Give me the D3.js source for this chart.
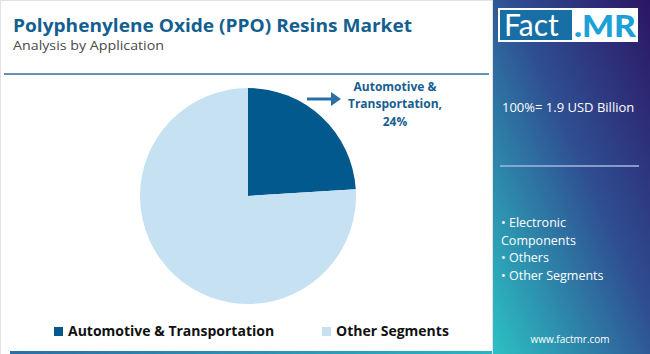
<!DOCTYPE html>
<html>
<head>
<meta charset="utf-8">
<script src="https://cdn.jsdelivr.net/npm/d3@7"></script>
<style>
  body { margin: 0; background: #fff; }
  svg { display: block; font-family: "Open Sans", "Noto Sans", sans-serif; }
</style>
</head>
<body>
<svg id="svg" width="650" height="354"></svg>
<script>
var categories = ["Automotive & Transportation", "Other Segments"];
var shares = [24, 76];
var sliceColors = ["#02598d", "#c6e2f2"];
var sideBullets = ["\u2022 Electronic", "Components", "\u2022 Others", "\u2022 Other Segments"];
var totalLabel = "100%= 1.9 USD Billion";

var svg = d3.select("svg");
var defs = svg.append("defs");

var grad = defs.append("linearGradient").attr("id", "side")
    .attr("x1", "100%").attr("y1", "0%").attr("x2", "0%").attr("y2", "100%");
grad.append("stop").attr("offset", "0%").attr("stop-color", "#2c1664");
grad.append("stop").attr("offset", "45%").attr("stop-color", "#2f4f92");
grad.append("stop").attr("offset", "100%").attr("stop-color", "#2cc1c4");

var lineGrad = defs.append("linearGradient").attr("id", "bottomLine")
    .attr("x1", "0%").attr("x2", "100%");
lineGrad.append("stop").attr("offset", "0%").attr("stop-color", "#2a6fa6");
lineGrad.append("stop").attr("offset", "100%").attr("stop-color", "#2ab3c2");

// left panel borders
svg.append("rect").attr("x", 0.5).attr("y", 0.5).attr("width", 492).attr("height", 360)
    .attr("fill", "none").attr("stroke", "#e2e2e2");

// title
svg.append("text").attr("x", 13).attr("y", 32)
    .attr("font-size", 18).attr("font-weight", 700).attr("fill", "#135f90")
    .attr("textLength", 399).attr("lengthAdjust", "spacingAndGlyphs")
    .text("Polyphenylene Oxide (PPO) Resins Market");
svg.append("text").attr("x", 13).attr("y", 50)
    .attr("font-size", 13).attr("fill", "#4a4a4a")
    .attr("textLength", 151).attr("lengthAdjust", "spacingAndGlyphs")
    .text("Analysis by Application");

svg.append("line").attr("x1", 4).attr("x2", 489).attr("y1", 74).attr("y2", 74)
    .attr("stroke", "#2f6f9f").attr("stroke-width", 1.5);

svg.append("rect").attr("x", 10).attr("y", 351).attr("width", 482).attr("height", 3)
    .attr("fill", "url(#bottomLine)");

// pie
var pie = d3.pie().sort(null).value(function (d) { return d; });
var arc = d3.arc().innerRadius(0).outerRadius(108);
var pieG = svg.append("g").attr("transform", "translate(248,196)");
pieG.selectAll("path").data(pie(shares)).enter().append("path")
    .attr("d", arc)
    .attr("fill", function (d, i) { return sliceColors[i]; });

// annotation
svg.append("line").attr("x1", 307).attr("x2", 332).attr("y1", 99).attr("y2", 99)
    .attr("stroke", "#2a6fa6").attr("stroke-width", 3);
svg.append("path").attr("d", "M331,92 L341,99 L331,106 Z").attr("fill", "#2a6fa6");
var ann = svg.append("text").attr("text-anchor", "middle")
    .attr("font-size", 12).attr("font-weight", 700).attr("fill", "#185e90");
ann.append("tspan").attr("x", 395).attr("y", 91).text("Automotive &");
ann.append("tspan").attr("x", 395).attr("y", 108).text("Transportation,");
ann.append("tspan").attr("x", 395).attr("y", 126).text(shares[0] + "%");

// legend
var legendX = [54, 322];
var legend = svg.selectAll(".legend").data(categories).enter().append("g")
    .attr("class", "legend")
    .attr("transform", function (d, i) { return "translate(" + legendX[i] + ",327)"; });
legend.append("rect").attr("width", 9).attr("height", 9)
    .attr("fill", function (d, i) { return sliceColors[i]; });
legend.append("text").attr("x", 14).attr("y", 9)
    .attr("font-size", 14).attr("font-weight", 700).attr("fill", "#111")
    .text(function (d) { return d; });

// side panel
svg.append("rect").attr("x", 493).attr("y", 0).attr("width", 157).attr("height", 354)
    .attr("fill", "url(#side)");
svg.append("rect").attr("x", 498).attr("y", 8).attr("width", 140).attr("height", 34).attr("fill", "#fff");
svg.append("rect").attr("x", 500).attr("y", 10).attr("width", 72).attr("height", 30).attr("fill", "#176fa6");
svg.append("text").attr("x", 504).attr("y", 36).attr("font-size", 30).attr("fill", "#fff")
    .attr("font-family", "Lato, sans-serif").text("Fact");
svg.append("text").attr("x", 574).attr("y", 37).attr("font-size", 30).attr("font-weight", 900)
    .attr("font-family", "Lato, sans-serif").attr("fill", "#1ba0d8")
    .attr("textLength", 62).attr("lengthAdjust", "spacingAndGlyphs").text(".MR");

svg.append("text").attr("x", 502).attr("y", 112).attr("font-size", 13).attr("fill", "#fff")
    .text(totalLabel);
svg.append("line").attr("x1", 500).attr("x2", 639).attr("y1", 166).attr("y2", 166)
    .attr("stroke", "#a7b6e2").attr("stroke-width", 1.5);

svg.selectAll(".bullet").data(sideBullets).enter().append("text")
    .attr("class", "bullet")
    .attr("x", 501).attr("y", function (d, i) { return 227 + i * 17.5; })
    .attr("font-size", 12.5).attr("fill", "#fff")
    .text(function (d) { return d; });

svg.append("text").attr("x", 570).attr("y", 343).attr("text-anchor", "middle")
    .attr("font-size", 10).attr("fill", "#fff").text("www.factmr.com");
</script>
</body>
</html>
